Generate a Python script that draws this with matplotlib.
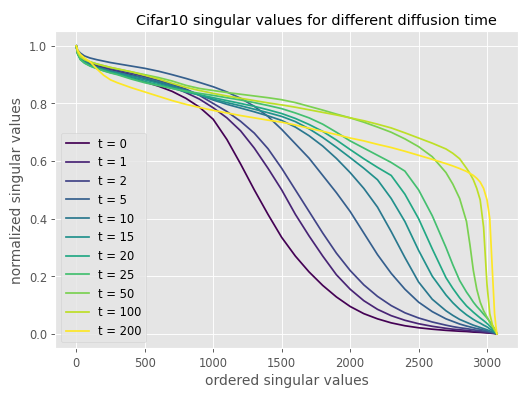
import numpy as np
import matplotlib
matplotlib.use('Agg')
import matplotlib.pyplot as plt

plt.style.use('ggplot')

idx = [0, 10, 30, 60, 100, 150, 200, 250, 300, 400,
       500, 600, 700, 800, 900, 1000, 1100, 1200, 1300, 1400, 1500, 1600, 1700, 1800,
       1900, 2000, 2100, 2200, 2300, 2400, 2500, 2600, 2700, 2750, 2800,
       2850, 2875, 2900, 2925, 2950, 2975, 3000, 3020, 3040, 3055, 3065, 3072]

times = [0, 1, 2, 5, 10, 15, 20, 25, 50, 100, 200]

sv_t0 = [1.0, 0.975, 0.958, 0.945, 0.936, 0.928, 0.92, 0.912, 0.905, 0.89,
         0.875, 0.86, 0.842, 0.818, 0.787, 0.745, 0.675, 0.59, 0.50, 0.415, 0.335, 0.27,
         0.215, 0.168, 0.128, 0.095, 0.07, 0.052, 0.038, 0.028, 0.021, 0.016, 0.012,
         0.0105, 0.009, 0.008, 0.007, 0.006, 0.0055, 0.005, 0.004, 0.003, 0.0025, 0.0015,
         0.001, 0.0005, 0.0]
sv_t1 = [1.0, 0.977, 0.96, 0.948, 0.94, 0.932, 0.925, 0.918, 0.912, 0.9,
         0.887, 0.873, 0.858, 0.838, 0.815, 0.785, 0.75, 0.705, 0.645, 0.575, 0.50, 0.415,
         0.34, 0.27, 0.205, 0.155, 0.115, 0.085, 0.063, 0.047, 0.035, 0.026, 0.019,
         0.016, 0.014, 0.012, 0.0105, 0.009, 0.008, 0.007, 0.006, 0.005, 0.004, 0.0025,
         0.0015, 0.001, 0.0]
sv_t2 = [1.0, 0.978, 0.962, 0.95, 0.942, 0.935, 0.928, 0.922, 0.916, 0.905,
         0.893, 0.88, 0.866, 0.85, 0.828, 0.80, 0.772, 0.738, 0.697, 0.643, 0.575, 0.50,
         0.425, 0.35, 0.28, 0.22, 0.17, 0.13, 0.098, 0.073, 0.055, 0.041, 0.03,
         0.025, 0.021, 0.018, 0.016, 0.014, 0.012, 0.011, 0.009, 0.007, 0.005, 0.0035,
         0.002, 0.001, 0.0]
sv_t5 = [1.0, 0.985, 0.975, 0.965, 0.958, 0.952, 0.947, 0.942, 0.938, 0.93,
         0.922, 0.912, 0.90, 0.887, 0.873, 0.858, 0.84, 0.818, 0.79, 0.755, 0.71, 0.66,
         0.61, 0.55, 0.49, 0.425, 0.35, 0.275, 0.21, 0.155, 0.11, 0.077, 0.052,
         0.043, 0.034, 0.027, 0.024, 0.021, 0.018, 0.016, 0.013, 0.011, 0.008, 0.005,
         0.003, 0.0015, 0.0]
sv_t10 = [1.0, 0.975, 0.958, 0.946, 0.936, 0.927, 0.92, 0.913, 0.908, 0.897,
          0.888, 0.876, 0.862, 0.847, 0.83, 0.812, 0.797, 0.784, 0.771, 0.757, 0.741, 0.718,
          0.688, 0.652, 0.609, 0.56, 0.505, 0.44, 0.355, 0.265, 0.18, 0.12, 0.08,
          0.064, 0.05, 0.04, 0.035, 0.03, 0.026, 0.022, 0.018, 0.014, 0.01, 0.006,
          0.004, 0.002, 0.0]
sv_t15 = [1.0, 0.973, 0.955, 0.943, 0.933, 0.924, 0.917, 0.91, 0.905, 0.893,
          0.882, 0.87, 0.857, 0.843, 0.829, 0.815, 0.803, 0.792, 0.78, 0.768, 0.755, 0.737,
          0.712, 0.682, 0.648, 0.612, 0.575, 0.535, 0.47, 0.39, 0.29, 0.20, 0.135,
          0.108, 0.085, 0.066, 0.058, 0.05, 0.043, 0.037, 0.03, 0.024, 0.017, 0.011,
          0.006, 0.003, 0.0]
sv_t20 = [1.0, 0.972, 0.953, 0.941, 0.931, 0.922, 0.914, 0.907, 0.902, 0.888,
          0.876, 0.865, 0.853, 0.84, 0.83, 0.82, 0.81, 0.80, 0.79, 0.778, 0.765, 0.748,
          0.727, 0.703, 0.673, 0.64, 0.608, 0.578, 0.55, 0.485, 0.40, 0.295, 0.195,
          0.158, 0.125, 0.097, 0.086, 0.075, 0.065, 0.055, 0.046, 0.036, 0.027, 0.017,
          0.01, 0.005, 0.0]
sv_t25 = [1.0, 0.972, 0.952, 0.94, 0.93, 0.921, 0.913, 0.906, 0.90, 0.885,
          0.872, 0.862, 0.852, 0.843, 0.835, 0.828, 0.82, 0.812, 0.803, 0.793, 0.782, 0.767,
          0.75, 0.728, 0.70, 0.67, 0.645, 0.62, 0.595, 0.565, 0.50, 0.41, 0.30,
          0.24, 0.185, 0.145, 0.128, 0.11, 0.095, 0.082, 0.068, 0.055, 0.042, 0.028,
          0.017, 0.009, 0.0]
sv_t50 = [1.0, 0.978, 0.962, 0.952, 0.944, 0.937, 0.931, 0.925, 0.92, 0.91,
          0.90, 0.89, 0.878, 0.863, 0.852, 0.845, 0.838, 0.832, 0.826, 0.82, 0.813, 0.803,
          0.79, 0.777, 0.763, 0.75, 0.735, 0.718, 0.70, 0.677, 0.65, 0.615, 0.56,
          0.52, 0.47, 0.39, 0.31, 0.22, 0.155, 0.11, 0.08, 0.058, 0.04, 0.024,
          0.013, 0.006, 0.0]
sv_t100 = [1.0, 0.978, 0.963, 0.953, 0.945, 0.937, 0.931, 0.925, 0.92, 0.91,
           0.898, 0.885, 0.87, 0.856, 0.845, 0.835, 0.826, 0.818, 0.81, 0.802, 0.795, 0.787,
           0.778, 0.769, 0.76, 0.75, 0.74, 0.728, 0.715, 0.698, 0.68, 0.662, 0.642,
           0.627, 0.608, 0.575, 0.557, 0.535, 0.505, 0.465, 0.37, 0.17, 0.07, 0.03,
           0.015, 0.007, 0.0]
sv_t200 = [1.0, 0.985, 0.97, 0.958, 0.945, 0.92, 0.898, 0.882, 0.872, 0.855,
           0.84, 0.825, 0.81, 0.797, 0.786, 0.776, 0.767, 0.758, 0.75, 0.742, 0.735, 0.725,
           0.714, 0.703, 0.692, 0.68, 0.67, 0.658, 0.647, 0.634, 0.62, 0.606, 0.591,
           0.583, 0.574, 0.564, 0.557, 0.55, 0.54, 0.527, 0.505, 0.465, 0.40, 0.21,
           0.07, 0.025, 0.0]

curves = [sv_t0, sv_t1, sv_t2, sv_t5, sv_t10, sv_t15, sv_t20, sv_t25, sv_t50, sv_t100, sv_t200]

fig, ax = plt.subplots(figsize=(6.4, 4.8), dpi=83)
colors = plt.cm.viridis(np.linspace(0, 1, len(times)))
for t, sv, c in zip(times, curves, colors):
    ax.plot(idx, sv, color=c, label=f't = {t}')

ax.set_title('Cifar10 singular values for different diffusion time', fontsize=12.5, x=0.564)
ax.set_xlabel('ordered singular values')
ax.set_ylabel('normalized singular values')
ax.legend(loc='lower left')
fig.subplots_adjust(left=0.104, right=0.975, bottom=0.125, top=0.92)
plt.savefig('out.png', dpi=83)
